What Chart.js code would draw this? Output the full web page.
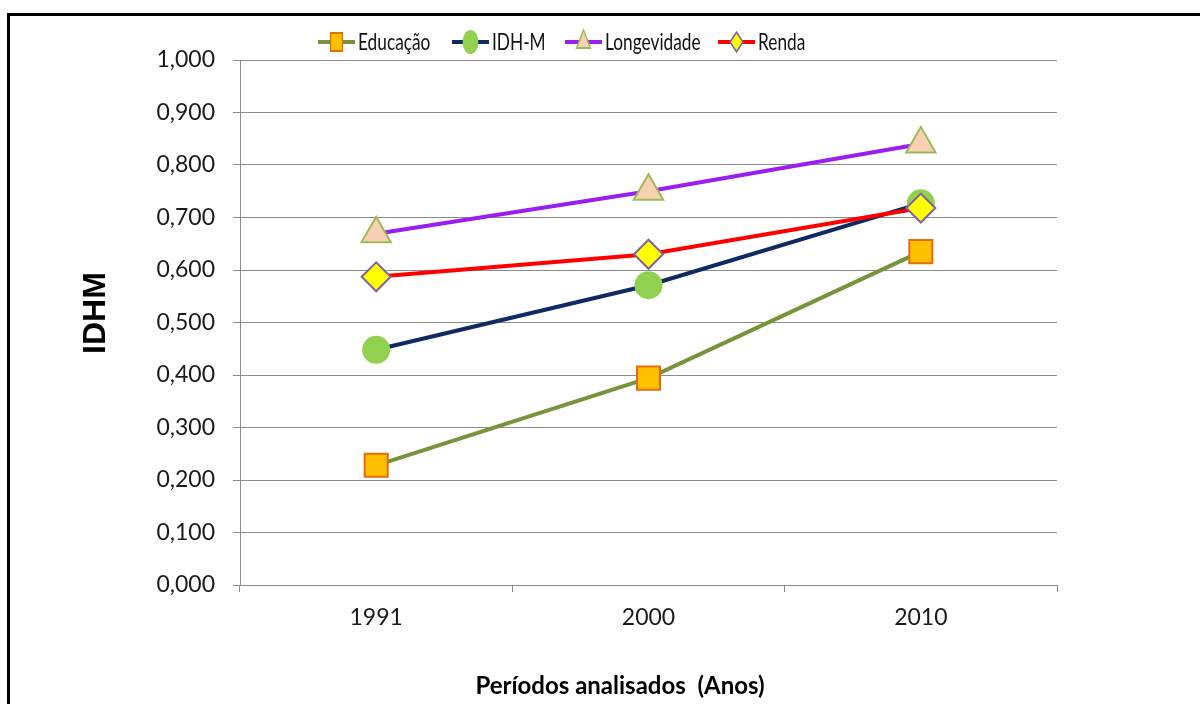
<!DOCTYPE html>
<html>
<head>
<meta charset="utf-8">
<title>IDHM por período</title>
<script src="https://cdn.jsdelivr.net/npm/chart.js@4.4.1/dist/chart.umd.min.js"></script>
<style>
  html, body { margin: 0; padding: 0; background: #fff; }
  #wrap { position: relative; width: 1200px; height: 704px; overflow: hidden; background: #fff; }
  #frame { position: absolute; left: 7px; top: 13px; width: 1300px; height: 800px;
           border-left: 3px solid #000; border-top: 3px solid #000; }
  canvas { position: absolute; left: 0; top: 0; }
</style>
</head>
<body>
<div id="wrap">
  <div id="frame"></div>
  <canvas id="grafico" width="1200" height="704"></canvas>
</div>
<script>
// Anos analisados e valores de cada componente do índice
const anos = ['1991', '2000', '2010'];
const educacao    = [0.228, 0.394, 0.635];
const idhm        = [0.448, 0.571, 0.727];
const longevidade = [0.669, 0.750, 0.840];
const renda       = [0.587, 0.630, 0.718];

const nomesSeries = ['Educação', 'IDH-M', 'Longevidade', 'Renda'];
const eixoYMin = 0, eixoYMax = 1, eixoYPasso = 0.1;
const tituloEixoX = 'Períodos analisados  (Anos)';
const tituloEixoY = 'IDHM';

const fonteTexto = 'Lato, "Open Sans", "DejaVu Sans", sans-serif';

// Aparência de cada série
const estilos = [
  { linha: '#77933C', preench: '#FFC000', borda: '#E46C0A', forma: 'rect',     raio: 16.3, raioLeg: 12.7 },
  { linha: '#0E2A60', preench: '#92D050', borda: '#92D050', forma: 'circle',   raio: 13,   raioLeg: 11   },
  { linha: '#9A1EF0', preench: '#FAD0B2', borda: '#9BBB59', forma: 'triangle', raio: 17,   raioLeg: 12   },
  { linha: '#FF0000', preench: '#FFFF00', borda: '#8064A2', forma: 'rectRot',  raio: 14.5, raioLeg: 9.8  }
];
const valores = [educacao, idhm, longevidade, renda];

const datasets = valores.map((v, i) => ({
  label: nomesSeries[i],
  data: v,
  borderColor: estilos[i].linha,
  backgroundColor: estilos[i].preench,
  borderWidth: 4,
  tension: 0,
  pointStyle: estilos[i].forma,
  pointRadius: estilos[i].raio,
  pointBackgroundColor: estilos[i].preench,
  pointBorderColor: estilos[i].borda,
  pointBorderWidth: 2,
  order: valores.length - 1 - i
}));

// Desenha um marcador simples (usado na legenda)
function desenharMarcador(ctx, forma, x, y, r, fill, stroke, lw) {
  ctx.beginPath();
  if (forma === 'rect') {
    const s = Math.SQRT1_2 * r;
    ctx.rect(x - s, y - s, 2 * s, 2 * s);
  } else if (forma === 'circle') {
    ctx.arc(x, y, r, 0, Math.PI * 2);
  } else if (forma === 'triangle') {
    ctx.moveTo(x, y - r);
    ctx.lineTo(x + r * 0.866, y + r * 0.5);
    ctx.lineTo(x - r * 0.866, y + r * 0.5);
    ctx.closePath();
  } else if (forma === 'rectRot') {
    ctx.moveTo(x - r, y); ctx.lineTo(x, y - r); ctx.lineTo(x + r, y); ctx.lineTo(x, y + r);
    ctx.closePath();
  }
  ctx.fillStyle = fill; ctx.fill();
  ctx.lineWidth = lw; ctx.strokeStyle = stroke; ctx.stroke();
}

// Legenda no topo, com linha + marcador + nome
const legendaTopo = {
  id: 'legendaTopo',
  afterDraw(chart) {
    const ctx = chart.ctx;
    const inicio = [318, 452, 565, 718];
    const cy = 42, compLinha = 37, escMarc = 0.66, escTexto = 0.72;
    chart.data.datasets.forEach((ds, i) => {
      ctx.save();
      ctx.strokeStyle = ds.borderColor;
      ctx.lineWidth = 4;
      ctx.beginPath();
      ctx.moveTo(inicio[i], cy);
      ctx.lineTo(inicio[i] + compLinha, cy);
      ctx.stroke();
      ctx.translate(inicio[i] + compLinha / 2, cy);
      ctx.scale(escMarc, 1);
      desenharMarcador(ctx, ds.pointStyle, 0, 0, estilos[i].raioLeg, ds.pointBackgroundColor, ds.pointBorderColor, 2);
      ctx.restore();
      ctx.save();
      ctx.translate(inicio[i] + compLinha + 3, cy);
      ctx.scale(escTexto, 1);
      ctx.font = '24px ' + fonteTexto;
      ctx.fillStyle = '#111';
      ctx.textAlign = 'left';
      ctx.textBaseline = 'middle';
      ctx.fillText(ds.label, 0, 0);
      ctx.restore();
    });
  }
};

// Títulos dos eixos
const titulosEixos = {
  id: 'titulosEixos',
  afterDraw(chart) {
    const ctx = chart.ctx;
    ctx.save();
    ctx.fillStyle = '#000';
    ctx.textAlign = 'center';
    ctx.textBaseline = 'middle';
    ctx.font = 'bold 24px ' + fonteTexto;
    ctx.fillText(tituloEixoX, 620, 686);
    ctx.translate(96, 313);
    ctx.rotate(-Math.PI / 2);
    ctx.font = 'bold 32px "Liberation Sans", Arial, sans-serif';
    ctx.fillText(tituloEixoY, 0, 0);
    ctx.restore();
  }
};

new Chart(document.getElementById('grafico'), {
  type: 'line',
  data: { labels: anos, datasets: datasets },
  options: {
    responsive: false,
    animation: false,
    events: [],
    layout: { padding: { top: 60, right: 143, bottom: 0, left: 0 } },
    plugins: { legend: { display: false }, tooltip: { enabled: false } },
    scales: {
      x: {
        type: 'category',
        offset: true,
        grid: { display: true, drawOnChartArea: false, drawTicks: true, tickLength: 7, offset: true, color: '#8c8c8c', lineWidth: 1 },
        border: { display: true, color: '#8c8c8c', width: 1 },
        ticks: { color: '#1a1a1a', font: { family: fonteTexto, size: 23 }, padding: 12, maxRotation: 0 },
        afterFit(scale) { scale.height = 704 - 585; }
      },
      y: {
        min: eixoYMin,
        max: eixoYMax,
        grid: { color: '#8c8c8c', lineWidth: 1, tickLength: 7, drawTicks: true },
        border: { display: true, color: '#8c8c8c', width: 1 },
        ticks: {
          stepSize: eixoYPasso,
          color: '#1a1a1a',
          font: { family: fonteTexto, size: 23 },
          padding: 18,
          callback: (v) => Number(v).toFixed(3).replace('.', ',')
        },
        afterFit(scale) { scale.width = 240; }
      }
    }
  },
  plugins: [legendaTopo, titulosEixos]
});
</script>
</body>
</html>
